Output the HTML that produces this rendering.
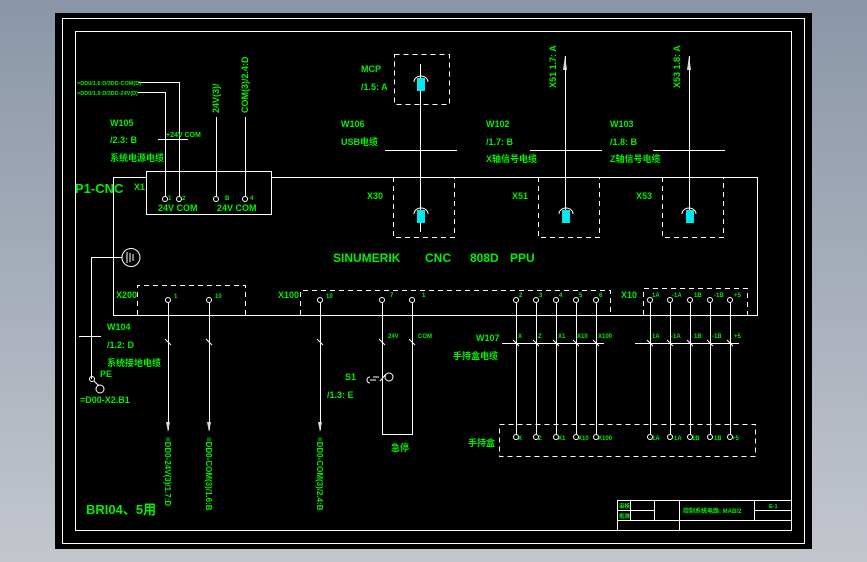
<!DOCTYPE html>
<html><head><meta charset="utf-8"><style>
html,body{margin:0;padding:0;width:867px;height:562px;overflow:hidden;background:linear-gradient(#8a96a8,#c3c6cd);}
svg{position:absolute;left:0;top:0}
text{font-family:"Liberation Sans Narrow","Liberation Sans","Noto Sans CJK SC",sans-serif;fill:#00f000;font-weight:bold}
</style></head><body>
<svg width="867" height="562" viewBox="0 0 867 562">
<rect x="55" y="13" width="757" height="536" fill="#000"/>
<g fill="none" stroke="#fff" stroke-width="1">
<rect x="62.5" y="18.5" width="742" height="525"/>
<rect x="75.5" y="31.5" width="716" height="499"/>
<polyline points="146,177.5 113.5,177.5 113.5,315.5 757.5,315.5 757.5,177.5 271,177.5"/>
<rect x="146.5" y="171.5" width="125" height="43"/>
<polyline points="138,82.5 179.5,82.5 179.5,196"/>
<polyline points="138,92.5 165.5,92.5 165.5,196"/>
<line x1="216.5" y1="117" x2="216.5" y2="196"/>
<line x1="245.5" y1="117" x2="245.5" y2="196"/>
<line x1="158" y1="139.5" x2="188" y2="139.5"/>
<circle cx="165" cy="199" r="2.5"/><circle cx="179" cy="199" r="2.5"/><circle cx="216" cy="199" r="2.5"/><circle cx="245" cy="199" r="2.5"/>
<g stroke-dasharray="5,4">
<rect x="394.5" y="54.5" width="55" height="50"/>
<polyline points="393.5,177 393.5,237.5 454.5,237.5 454.5,177"/>
<polyline points="538.5,177 538.5,237.5 599.5,237.5 599.5,177"/>
<polyline points="662.5,177 662.5,237.5 723.5,237.5 723.5,177"/>
<polyline points="137.5,315 137.5,285.5 245.5,285.5 245.5,315"/>
<polyline points="300.5,315 300.5,290.5 610.5,290.5 610.5,315"/>
<polyline points="643.5,315 643.5,288.5 747.5,288.5 747.5,315"/>
<rect x="499.5" y="424.5" width="256" height="32"/>
</g>
<line x1="420.5" y1="64" x2="420.5" y2="232"/>
<line x1="565.5" y1="56" x2="565.5" y2="215"/>
<line x1="689.5" y1="56" x2="689.5" y2="215"/>
<line x1="385" y1="150.5" x2="457" y2="150.5"/>
<line x1="530" y1="150.5" x2="602" y2="150.5"/>
<line x1="653" y1="150.5" x2="725" y2="150.5"/>
<path d="M414,82 a7,6 0 0 1 14,0"/><path d="M414,214 a7,6 0 0 1 14,0"/>
<path d="M559,214 a7,6 0 0 1 14,0"/><path d="M682,214 a7,6 0 0 1 14,0"/>
<polyline points="91.5,379 91.5,257.5 122,257.5"/>
<circle cx="131" cy="257.5" r="9"/>
<line x1="127" y1="252" x2="127" y2="263"/><line x1="130" y1="253" x2="130" y2="262"/><line x1="133" y1="254" x2="133" y2="261"/>
<line x1="79" y1="336.5" x2="101" y2="336.5"/>
<circle cx="92" cy="379" r="2.5"/><line x1="94" y1="381" x2="99" y2="386"/><circle cx="100" cy="389" r="4"/>
<line x1="168.5" y1="303" x2="168.5" y2="430"/>
<line x1="209.5" y1="303" x2="209.5" y2="430"/>
<line x1="320.5" y1="303" x2="320.5" y2="430"/>
<polyline points="382.5,303 382.5,434.5 412.5,434.5 412.5,303"/>
<circle cx="168" cy="300" r="2.5"/><circle cx="209" cy="300" r="2.5"/><circle cx="320" cy="300" r="2.5"/><circle cx="382" cy="300" r="2.5"/><circle cx="412" cy="300" r="2.5"/>
<path d="M370,377 a3,3 0 0 0 0,6 M370,380 H376 M373,377 H379 M380,381 L386,374"/>
<circle cx="389" cy="377" r="4"/>
<!-- ticks -->
<path d="M165,339 L171,345 M206,339 L212,345 M317,339 L323,345 M379,339 L385,345 M409,339 L415,345
M513,340 L519,346 M533,340 L539,346 M553,340 L559,346 M573,340 L579,346 M593,340 L599,346
M647,340 L653,346 M667,340 L673,346 M687,340 L693,346 M707,340 L713,346 M727,340 L733,346"/>
<line x1="502" y1="343.5" x2="604" y2="343.5"/>
<line x1="635" y1="343.5" x2="739" y2="343.5"/>
<g>
<line x1="516.5" y1="303" x2="516.5" y2="434"/><line x1="536.5" y1="303" x2="536.5" y2="434"/><line x1="556.5" y1="303" x2="556.5" y2="434"/><line x1="576.5" y1="303" x2="576.5" y2="434"/><line x1="596.5" y1="303" x2="596.5" y2="434"/>
<line x1="650.5" y1="303" x2="650.5" y2="434"/><line x1="670.5" y1="303" x2="670.5" y2="434"/><line x1="690.5" y1="303" x2="690.5" y2="434"/><line x1="710.5" y1="303" x2="710.5" y2="434"/><line x1="730.5" y1="303" x2="730.5" y2="434"/>
</g>
<g>
<circle cx="516" cy="300" r="2.5"/><circle cx="536" cy="300" r="2.5"/><circle cx="556" cy="300" r="2.5"/><circle cx="576" cy="300" r="2.5"/><circle cx="596" cy="300" r="2.5"/>
<circle cx="650" cy="300" r="2.5"/><circle cx="670" cy="300" r="2.5"/><circle cx="690" cy="300" r="2.5"/><circle cx="710" cy="300" r="2.5"/><circle cx="730" cy="300" r="2.5"/>
<circle cx="516" cy="437" r="2.5"/><circle cx="536" cy="437" r="2.5"/><circle cx="556" cy="437" r="2.5"/><circle cx="576" cy="437" r="2.5"/><circle cx="596" cy="437" r="2.5"/>
<circle cx="650" cy="437" r="2.5"/><circle cx="670" cy="437" r="2.5"/><circle cx="690" cy="437" r="2.5"/><circle cx="710" cy="437" r="2.5"/><circle cx="730" cy="437" r="2.5"/>
</g>
<rect x="617.5" y="500.5" width="174" height="30"/>
<line x1="617" y1="510.5" x2="654" y2="510.5"/><line x1="617" y1="520.5" x2="791" y2="520.5"/>
<line x1="754" y1="510.5" x2="791" y2="510.5"/>
<line x1="630.5" y1="500" x2="630.5" y2="520"/><line x1="654.5" y1="500" x2="654.5" y2="520"/><line x1="679.5" y1="500" x2="679.5" y2="530"/><line x1="754.5" y1="500" x2="754.5" y2="520"/>
</g>
<g fill="#00e8f0">
<rect x="417" y="78" width="8" height="13"/><rect x="417" y="210" width="8" height="13"/>
<rect x="562" y="210" width="8" height="13"/><rect x="686" y="210" width="8" height="13"/>
</g>
<g fill="#ddd"><polygon points="565,56 563,70 567,70"/><polygon points="689,56 687,70 691,70"/><polygon points="168,432 166,422 170,422"/><polygon points="209,432 207,422 211,422"/><polygon points="320,432 318,422 322,422"/></g>
<g font-size="9">
<text x="77" y="85" font-size="5.5">=DD0/1.6:D/3DD-COM(D)</text>
<text x="77" y="95" font-size="5.5">=DD0/1.9:D/3DD-24V(D)</text>
<text x="110" y="126">W105</text><text x="110" y="143">/2.3: B</text><text x="110" y="161">系统电源电缆</text>
<text x="166" y="137" font-size="7">+24V COM</text>
<text x="75" y="193" font-size="13" font-weight="normal">P1-CNC</text>
<text x="134" y="190">X1</text>
<text x="168" y="200" font-size="6">1</text><text x="182" y="200" font-size="6">2</text><text x="225" y="200" font-size="6">B</text><text x="250" y="200" font-size="6">4</text>
<text x="158" y="211">24V COM</text><text x="217" y="211">24V COM</text>
<text transform="translate(219,113) rotate(-90)">24V(3)/</text>
<text transform="translate(248,113) rotate(-90)">COM(3)/2.4:D</text>
<text x="361" y="72">MCP</text><text x="361" y="90">/1.5: A</text>
<text x="341" y="127">W106</text><text x="341" y="145">USB电缆</text>
<text x="486" y="127">W102</text><text x="486" y="145">/1.7: B</text><text x="486" y="162">X轴信号电缆</text>
<text x="610" y="127">W103</text><text x="610" y="145">/1.8: B</text><text x="610" y="162">Z轴信号电缆</text>
<text transform="translate(556,88) rotate(-90)">X51 1.7: A</text>
<text transform="translate(680,88) rotate(-90)">X53 1.8: A</text>
<text x="367" y="199">X30</text><text x="512" y="199">X51</text><text x="636" y="199">X53</text>
<text x="333" y="262" font-size="12" font-weight="normal">SINUMERIK</text>
<text x="425" y="262" font-size="12" font-weight="normal">CNC</text>
<text x="470" y="262" font-size="12" font-weight="normal">808D</text>
<text x="510" y="262" font-size="12" font-weight="normal">PPU</text>
<text x="116" y="298">X200</text><text x="278" y="298">X100</text><text x="621" y="298">X10</text>
<g font-size="6"><text x="174" y="298">1</text><text x="215" y="298">10</text><text x="326" y="298">10</text><text x="390" y="297">7</text><text x="422" y="297">1</text>
<text x="519" y="297">2</text><text x="539" y="297">3</text><text x="559" y="297">4</text><text x="579" y="297">5</text><text x="599" y="297">6</text>
<text x="652" y="297">1A</text><text x="672" y="297">-1A</text><text x="694" y="297">1B</text><text x="714" y="297">-1B</text><text x="734" y="297">+5</text>
<text x="388" y="338">24V</text><text x="418" y="338">COM</text>
<text x="518" y="338">X</text><text x="538" y="338">Z</text><text x="558" y="338">X1</text><text x="577" y="338">X10</text><text x="598" y="338">X100</text>
<text x="652" y="338">1A</text><text x="671" y="338">-1A</text><text x="694" y="338">1B</text><text x="712" y="338">-1B</text><text x="734" y="338">+5</text>
<text x="518" y="440">X</text><text x="538" y="440">Z</text><text x="558" y="440">X1</text><text x="578" y="440">X10</text><text x="598" y="440">X100</text>
<text x="652" y="440">1A</text><text x="672" y="440">-1A</text><text x="692" y="440">1B</text><text x="712" y="440">-1B</text><text x="732" y="440">+5</text>
</g>
<text x="107" y="330">W104</text><text x="107" y="348">/1.2: D</text><text x="107" y="366">系统接地电缆</text>
<text x="100" y="377">PE</text><text x="80" y="403">=D00-X2.B1</text>
<text transform="translate(165,437) rotate(90)" font-size="8">=DD0-24V(3)/1.7:D</text>
<text transform="translate(206,437) rotate(90)" font-size="8">=DD0-COM(3)/1.6:B</text>
<text transform="translate(317,437) rotate(90)" font-size="8">=DD0-COM(3)/2.4:B</text>
<text x="345" y="380">S1</text><text x="327" y="398">/1.3: E</text>
<text x="391" y="451">急停</text>
<text x="476" y="341">W107</text><text x="453" y="359">手持盒电缆</text>
<text x="468" y="446">手持盒</text>
<text x="86" y="514" font-size="13" font-weight="normal">BRI04、5用</text>
<text x="619" y="508" font-size="5.5">审核</text><text x="619" y="518" font-size="5.5">批准</text>
<text x="683" y="513" font-size="6">控制系统电路: MAB/2</text>
<text x="769" y="508" font-size="5.5">E-1</text>
</g>
</svg>
</body></html>
